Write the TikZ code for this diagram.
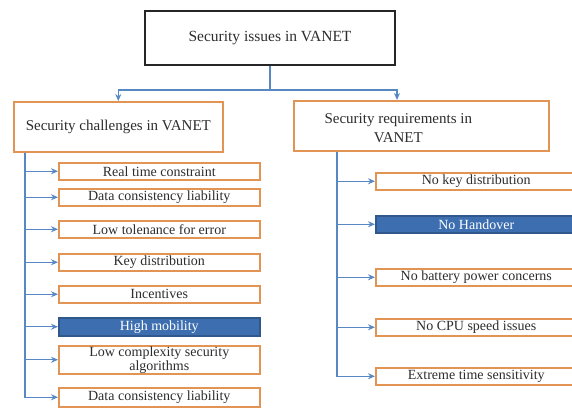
\documentclass[tikz,border=0pt]{standalone}
\usepackage{fontspec}
\setmainfont{Liberation Serif}
\usetikzlibrary{positioning}
\usetikzlibrary{calc}
\usetikzlibrary{arrows.meta}

\definecolor{boxorange}{RGB}{226,148,84}
\definecolor{boxblue}{RGB}{60,110,176}
\definecolor{linkblue}{RGB}{88,136,196}
\definecolor{textgray}{RGB}{45,45,45}

\tikzset{
  root/.style={draw=black!85,line width=2pt,rectangle,inner sep=0pt,text=textgray,font=\fontsize{15.5}{18}\selectfont},
  branch/.style={draw=boxorange,line width=1.6pt,rectangle,fill=white,inner sep=0pt,text=textgray,font=\fontsize{15}{18}\selectfont},
  leaf/.style={draw=boxorange,line width=1.5pt,rectangle,fill=white,inner sep=0pt,minimum width=201pt,minimum height=17pt,
               anchor=north west,align=center,text=textgray,font=\fontsize{14}{15}\selectfont},
  hot/.style={leaf,draw=boxblue!80!black,fill=boxblue,text=white},
  link/.style={-{Stealth[length=7pt,width=6pt]},draw=linkblue,line width=1.3pt}
}

\begin{document}
\begin{tikzpicture}[x=1pt,y=-1pt]
  \useasboundingbox (0,0) rectangle (572,408);

  % top of the tree
  \node (issues) [root,minimum width=250pt,minimum height=54pt,anchor=north west] at (144,10) {Security issues in VANET};
  \node (challenges) [branch,minimum width=209pt,minimum height=50pt,anchor=north west] at (13,101) {Security challenges in VANET};
  \node (requirements) [branch,minimum width=255pt,minimum height=50pt,anchor=north west,
        label={[align=center,xshift=-23pt,yshift=-2pt,text=textgray,font=\fontsize{15}{19}\selectfont]center:Security requirements in\\VANET}] at (293,100) {};

  \coordinate (rtop) at ($(requirements.north west)+(104,0)$);
  \draw [link] (issues.south) -- ++(0,24) -| (challenges.north);
  \draw [link] (issues.south) -- ++(0,24) -| (rtop);

  % challenges
  \node (c1) [leaf] at (58,162) {Real time constraint};
  \node (c2) [leaf] at (58,188) {Data consistency  liability};
  \node (c3) [leaf] at (58,220) {Low tolenance  for error};
  \node (c4) [leaf] at (58,253) {Key distribution};
  \node (c5) [leaf] at (58,285) {Incentives};
  \node (c6) [hot,minimum height=18pt] at (58,317) {High mobility};
  \node (c7) [leaf,minimum height=28pt,font=\fontsize{14}{14}\selectfont] at (58,345) {Low complexity  security\\algorithms};
  \node (c8) [leaf,minimum height=19pt] at (58,387) {Data consistency  liability};

  \coordinate (ltrunk) at ($(challenges.south west)+(12,0)$);
  \draw [link] (ltrunk) |- (c1.west);
  \draw [link] (ltrunk) |- (c2.west);
  \draw [link] (ltrunk) |- (c3.west);
  \draw [link] (ltrunk) |- (c4.west);
  \draw [link] (ltrunk) |- (c5.west);
  \draw [link] (ltrunk) |- (c6.west);
  \draw [link] (ltrunk) |- (c7.west);
  \draw [link] (ltrunk) |- (c8.west);

  % requirements
  \node (r1) [leaf] at (375,172) {No key distribution};
  \node (r2) [hot] at (375,215) {No Handover};
  \node (r3) [leaf] at (375,268) {No battery power  concerns};
  \node (r4) [leaf] at (375,318) {No CPU speed issues};
  \node (r5) [leaf] at (375,367) {Extreme time  sensitivity};

  \coordinate (rtrunk) at ($(requirements.south west)+(44,0)$);
  \draw [link] (rtrunk) |- (r1.west);
  \draw [link] (rtrunk) |- (r2.west);
  \draw [link] (rtrunk) |- (r3.west);
  \draw [link] (rtrunk) |- (r4.west);
  \draw [link] (rtrunk) |- (r5.west);
\end{tikzpicture}
\end{document}
